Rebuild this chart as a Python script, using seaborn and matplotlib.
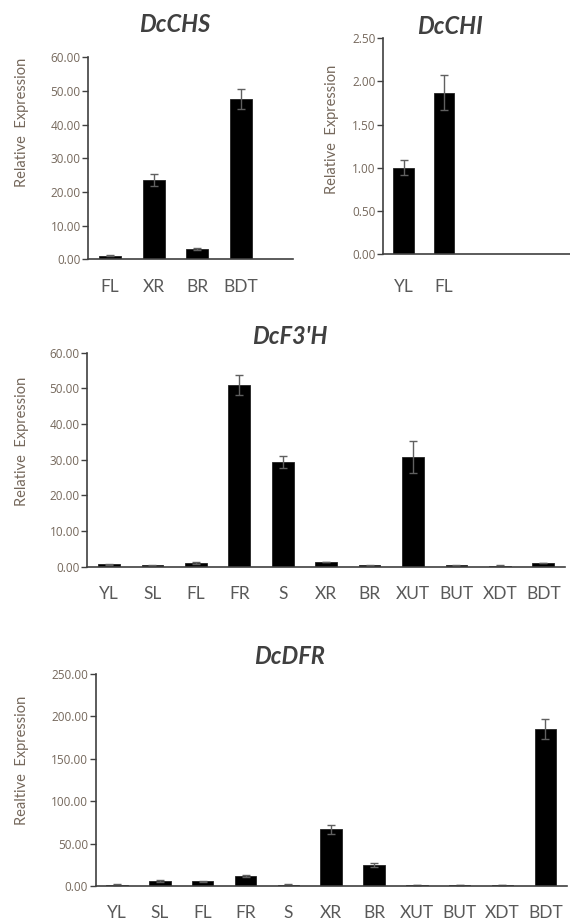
import matplotlib
matplotlib.use("Agg")
import matplotlib.pyplot as plt
import seaborn as sns
import pandas as pd
import numpy as np
from matplotlib.ticker import FormatStrFormatter

# ---------------- data ----------------
chs_cats = ["FL", "XR", "BR", "BDT"]
chs_vals = [1.0, 23.5, 3.2, 47.6]
chs_errs = [0.15, 1.8, 0.3, 2.9]

chi_cats = ["YL", "FL"]
chi_vals = [1.00, 1.87]
chi_errs = [0.085, 0.20]

f3h_cats = ["YL", "SL", "FL", "FR", "S", "XR", "BR", "XUT", "BUT", "XDT", "BDT"]
f3h_vals = [0.7, 0.35, 1.0, 50.9, 29.4, 1.3, 0.4, 30.8, 0.4, 0.3, 1.0]
f3h_errs = [0.15, 0.05, 0.2, 2.8, 1.7, 0.1, 0.15, 4.5, 0.15, 0.05, 0.1]

dfr_cats = ["YL", "SL", "FL", "FR", "S", "XR", "BR", "XUT", "BUT", "XDT", "BDT"]
dfr_vals = [1.5, 5.9, 5.6, 11.4, 1.5, 66.8, 25.1, 1.0, 1.0, 1.0, 185.0]
dfr_errs = [0.6, 1.0, 0.8, 1.0, 0.5, 5.0, 2.5, 0.2, 0.2, 0.2, 12.0]

sns.set_theme(style="white")
plt.rcParams["font.family"] = ["Lato", "DejaVu Sans"]

W, H = 570, 922
fig = plt.figure(figsize=(W / 100, H / 100), dpi=100)

SPINE = "#404040"
TICKC = "#75685c"
CATC = "#595959"
TITLEC = "#404040"


def add_ax(left, right, top, bottom):
    return fig.add_axes([left / W, 1 - bottom / H, (right - left) / W, (bottom - top) / H])


def panel(ax, cats, vals, errs, ymax, ystep, xmax, title, title_xy, ylab, ylab_xy, pad):
    df = pd.DataFrame({"cat": cats, "val": vals})
    sns.barplot(data=df, x="cat", y="val", ax=ax, color="black", width=0.5,
                edgecolor="#222222", linewidth=0.6, errorbar=None, saturation=1)
    ax.errorbar(np.arange(len(cats)), vals, yerr=errs, fmt="none",
                ecolor="#606060", elinewidth=1.0, capsize=3, capthick=1.0)
    ax.set_xlim(-0.5, xmax)
    ax.set_ylim(0, ymax)
    ax.set_yticks(np.arange(0, ymax + ystep / 2, ystep))
    ax.yaxis.set_major_formatter(FormatStrFormatter("%.2f"))
    ax.set_xlabel("")
    ax.set_ylabel("")
    for s in ["top", "right"]:
        ax.spines[s].set_visible(False)
    for s in ["left", "bottom"]:
        ax.spines[s].set_color(SPINE)
        ax.spines[s].set_linewidth(1.2)
    ax.tick_params(axis="y", which="both", left=True, length=4, width=1.0, color=SPINE,
                   pad=1.5, labelsize=8.5, labelcolor=TICKC)
    ax.tick_params(axis="x", length=0, pad=pad, labelsize=12.5, labelcolor=CATC)
    for t in ax.get_yticklabels():
        t.set_fontfamily(["Open Sans", "DejaVu Sans"])
    fig.text(title_xy[0] / W, 1 - title_xy[1] / H, title, ha="center", va="center",
             fontsize=17, fontweight="bold", fontstyle="italic", color=TITLEC)
    fig.text(ylab_xy[0] / W, 1 - ylab_xy[1] / H, ylab, ha="center", va="center",
             rotation=90, fontsize=10.5, color=TICKC)


ax1 = add_ax(88.3, 293, 57.3, 259.3)
panel(ax1, chs_cats, chs_vals, chs_errs, 60, 10, 4.2, "DcCHS", (175, 24),
      "Relative  Expression", (21.7, 122), 14)

ax2 = add_ax(383.3, 569.5, 38.3, 254)
panel(ax2, chi_cats, chi_vals, chi_errs, 2.5, 0.5, 4.1, "DcCHI", (450, 27),
      "Relative  Expression", (331.7, 129), 18)

ax3 = add_ax(87.3, 565, 352.7, 566.7)
panel(ax3, f3h_cats, f3h_vals, f3h_errs, 60, 10, 10.5, "DcF3'H", (290, 337),
      "Relative  Expression", (21.7, 441), 14)

ax4 = add_ax(95.7, 566.7, 674, 886)
panel(ax4, dfr_cats, dfr_vals, dfr_errs, 250, 50, 10.5, "DcDFR", (290, 657),
      "Realtive  Expression", (21.7, 760), 13.5)

fig.savefig("out.png", dpi=100, facecolor="white")
